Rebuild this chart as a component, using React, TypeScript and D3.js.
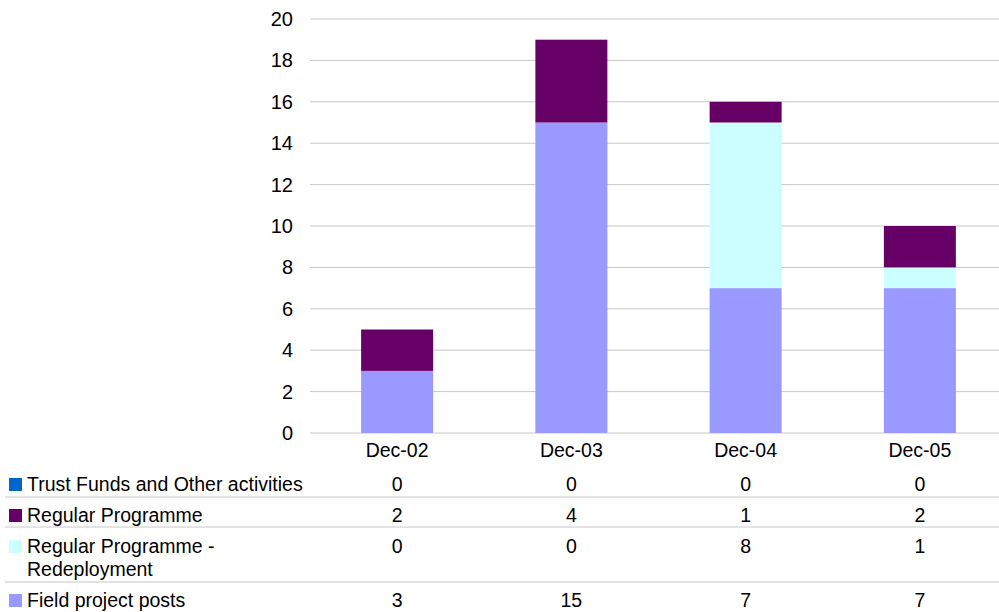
import React from "react";
import * as d3 from "d3";

const categories = ["Dec-02", "Dec-03", "Dec-04", "Dec-05"];
const seriesNames = [
  "Trust Funds and Other activities",
  "Regular Programme",
  "Regular Programme - Redeployment",
  "Field project posts",
];
const trustFunds = [0, 0, 0, 0];
const regularProgramme = [2, 4, 1, 2];
const redeployment = [0, 0, 8, 1];
const fieldProjectPosts = [3, 15, 7, 7];
const yTicks = [0, 2, 4, 6, 8, 10, 12, 14, 16, 18, 20];

const colors = ["#0066CC", "#660066", "#CCFFFF", "#9999FF"];
const legendLines = [
  ["Trust Funds and Other activities"],
  ["Regular Programme"],
  ["Regular Programme -", "Redeployment"],
  ["Field project posts"],
];

export default function App() {
  const W = 999;
  const H = 612;
  const x = d3.scaleBand<string>().domain(categories).range([310, 1007]).padding(0);
  const y = d3.scaleLinear().domain([0, 20]).range([433, 19]);
  const step = x.step();
  const bw = 72;

  const values = [trustFunds, regularProgramme, redeployment, fieldProjectPosts];
  const rows = categories.map((c, i) => ({
    cat: c,
    field: fieldProjectPosts[i],
    redep: redeployment[i],
    reg: regularProgramme[i],
    trust: trustFunds[i],
  }));
  const stack = d3.stack<any>().keys(["field", "redep", "reg", "trust"])(rows);
  const keyColor: Record<string, string> = {
    field: colors[3],
    redep: colors[2],
    reg: colors[1],
    trust: colors[0],
  };

  const font = "Liberation Sans, Arial, sans-serif";
  const fs = 19.5;
  const rowTextY = [484, 515, 546, 600];
  const sepY = [497, 527, 582];

  return (
    <svg
      width={W}
      height={H}
      style={{ position: "absolute", left: 0, top: 0 }}
      fontFamily={font}
      fontSize={fs}
    >
      <rect width={W} height={H} fill="#fff" />
      {yTicks.map((t) => (
        <g key={t}>
          <line x1={310} x2={999} y1={y(t)} y2={y(t)} stroke="#C8C8C8" strokeWidth={1} />
          <text x={293} y={y(t)} dy="0.35em" textAnchor="end" fill="#000" fontSize={20}>
            {t}
          </text>
        </g>
      ))}
      {stack.map((s) =>
        s.map((d, i) =>
          d[1] - d[0] > 0 ? (
            <rect
              key={s.key + i}
              x={(x(categories[i]) as number) + (step - bw) / 2}
              width={bw}
              y={y(d[1])}
              height={y(d[0]) - y(d[1])}
              fill={keyColor[s.key]}
            />
          ) : null
        )
      )}
      {categories.map((c) => (
        <text
          key={c}
          x={(x(c) as number) + step / 2}
          y={450}
          dy="0.35em"
          textAnchor="middle"
          fill="#000"
        >
          {c}
        </text>
      ))}
      {sepY.map((sy) => (
        <line key={sy} x1={5} x2={999} y1={sy} y2={sy} stroke="#C8C8C8" strokeWidth={1} />
      ))}
      {seriesNames.map((name, r) => (
        <g key={name}>
          <rect x={9} y={rowTextY[r] - 6} width={13} height={13} fill={colors[r]} />
          {legendLines[r].map((ln, k) => (
            <text key={k} x={27} y={rowTextY[r] + k * 23} dy="0.35em" fill="#000">
              {ln}
            </text>
          ))}
          {categories.map((c, i) => (
            <text
              key={c}
              x={(x(c) as number) + step / 2}
              y={rowTextY[r]}
              dy="0.35em"
              textAnchor="middle"
              fill="#000"
            >
              {values[r][i]}
            </text>
          ))}
        </g>
      ))}
    </svg>
  );
}
